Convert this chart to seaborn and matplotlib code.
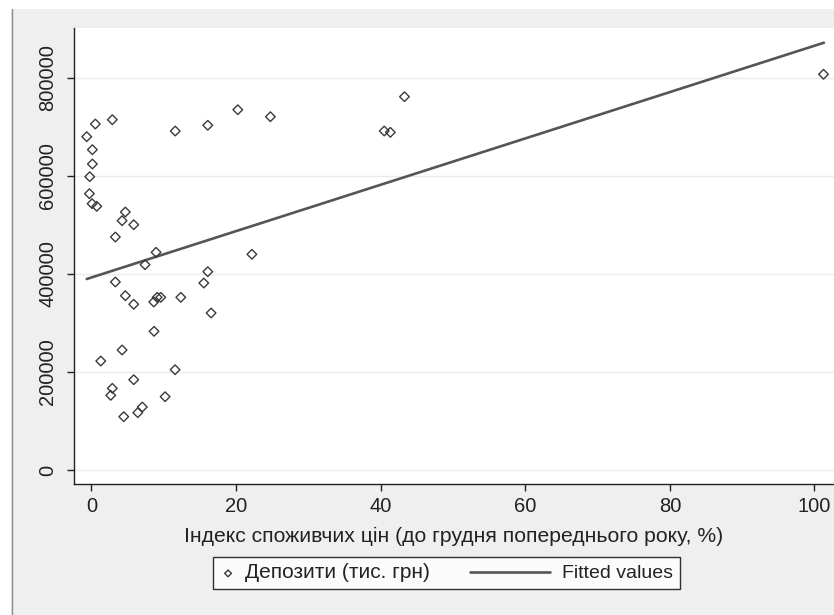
import numpy as np
import pandas as pd
import seaborn as sns
import matplotlib.pyplot as plt
from matplotlib.lines import Line2D
from matplotlib.patches import Rectangle
from matplotlib.legend_handler import HandlerLine2D

# ---- data ----
cpi = [-0.64, 0.55, 2.9, 0.14, 0.14, -0.22, -0.27, 0.1, 0.75, 4.7, 4.25, 5.86, 3.32,
       11.6, 16.1, 20.25, 8.95, 7.43, 16.1, 22.2, 24.76, 40.5, 41.35, 43.3, 3.32, 4.7,
       5.86, 8.63, 9.1, 9.6, 12.37, 15.55, 16.56, 8.67, 4.25, 1.3, 11.58, 5.86, 2.9,
       2.68, 10.2, 7.05, 6.42, 4.48, 101.25]
deposits = [680200, 706100, 714900, 653700, 624500, 598600, 563900, 543500, 538100,
            526500, 508800, 500600, 475500, 691800, 703500, 735300, 444300, 419000,
            404700, 440200, 721000, 691800, 689100, 761800, 383700, 355700, 338200,
            342900, 352400, 352400, 352400, 381600, 320400, 283000, 244900, 222400,
            204700, 184300, 166700, 152400, 149600, 128600, 117000, 108800, 807600]
fit_x = [-0.64, 101.3]
fit_y = [389800, 872000]

xticks = [0, 20, 40, 60, 80, 100]
yticks = [0, 200000, 400000, 600000, 800000]
xlabel = "Індекс споживчих цін (до грудня попереднього року, %)"
scatter_label = "Депозити (тис. грн)"
fit_label = "Fitted values"

df = pd.DataFrame({"x": cpi, "y": deposits})
fdf = pd.DataFrame({"x": fit_x, "y": fit_y})

sns.set_theme(style="white")
plt.rcParams['font.family'] = ['Liberation Sans', 'DejaVu Sans']

W, H = 834, 615
fig = plt.figure(figsize=(W / 100, H / 100), dpi=100, facecolor="#efefef")

# white strips at top/left and thin border line (window frame)
fig.patches.append(Rectangle((0, 1 - 9 / H), 1, 9 / H, transform=fig.transFigure,
                             facecolor="white", edgecolor="none", zorder=0))
fig.patches.append(Rectangle((0, 0), 11 / W, 1 - 9 / H, transform=fig.transFigure,
                             facecolor="white", edgecolor="none", zorder=0))
fig.lines.append(Line2D([11.5 / W, 11.5 / W], [0, 1 - 9 / H], transform=fig.transFigure,
                        color="#8a8a8a", lw=1))

ax = fig.add_axes([74 / W, 1 - 484 / H, (W - 74) / W, (484 - 28) / H])
ax.set_facecolor("white")

sns.scatterplot(data=df, x="x", y="y", ax=ax, marker="D", s=24,
                facecolor="none", edgecolor="#3a3a3a", linewidth=1.0,
                label=scatter_label, zorder=3)
sns.lineplot(data=fdf, x="x", y="y", ax=ax, color="#555555", lw=1.9,
             label=fit_label, zorder=2)

ax.set_xlim(-2.4, 102.7)
ax.set_ylim(-28571, 902040)
ax.set_xticks(xticks)
ax.set_yticks(yticks)
ax.set_xticklabels([str(t) for t in xticks], fontsize=14.5, color="#222222")
ax.set_yticklabels([str(t) for t in yticks], fontsize=14.5, color="#222222",
                   rotation=90, va="center")
ax.tick_params(axis="both", direction="out", length=5, width=1, color="#222222")
ax.tick_params(axis="y", pad=7, left=True)
ax.tick_params(axis="x", pad=4, bottom=True)
for y in yticks:
    ax.axhline(y, color="#ebebeb", lw=1, zorder=0)
ax.grid(False)

for s in ["top", "right"]:
    ax.spines[s].set_visible(False)
for s in ["left", "bottom"]:
    ax.spines[s].set_color("#222222")
    ax.spines[s].set_linewidth(1)

ax.set_xlabel(xlabel, fontsize=15.2, color="#222222", labelpad=8)
ax.set_ylabel("")


class LongLineHandler(HandlerLine2D):
    def create_artists(self, legend, orig_handle, xdescent, ydescent, width, height,
                       fontsize, trans):
        yc = (height - ydescent) / 2
        line = Line2D([width - 60, width - 2.4], [yc, yc])
        self.update_prop(line, orig_handle, legend)
        line.set_transform(trans)
        return [line]


handles, labels = ax.get_legend_handles_labels()
ax.get_legend().remove()
leg = fig.legend(handles, labels, loc="center", ncol=2,
                 bbox_to_anchor=(446.5 / W, 1 - 573 / H),
                 fontsize=14, frameon=True, fancybox=False, shadow=False,
                 handlelength=0.85, handletextpad=0.45, borderpad=0.35,
                 columnspacing=5.5, markerscale=0.7,
                 handler_map={handles[1]: LongLineHandler()})
leg.get_frame().set_edgecolor("black")
leg.get_frame().set_linewidth(1)
leg.get_frame().set_facecolor("white")
leg.get_texts()[0].set_fontsize(15)
for t in leg.get_texts():
    t.set_color("#222222")

fig.savefig("out.png", dpi=100, facecolor=fig.get_facecolor())
